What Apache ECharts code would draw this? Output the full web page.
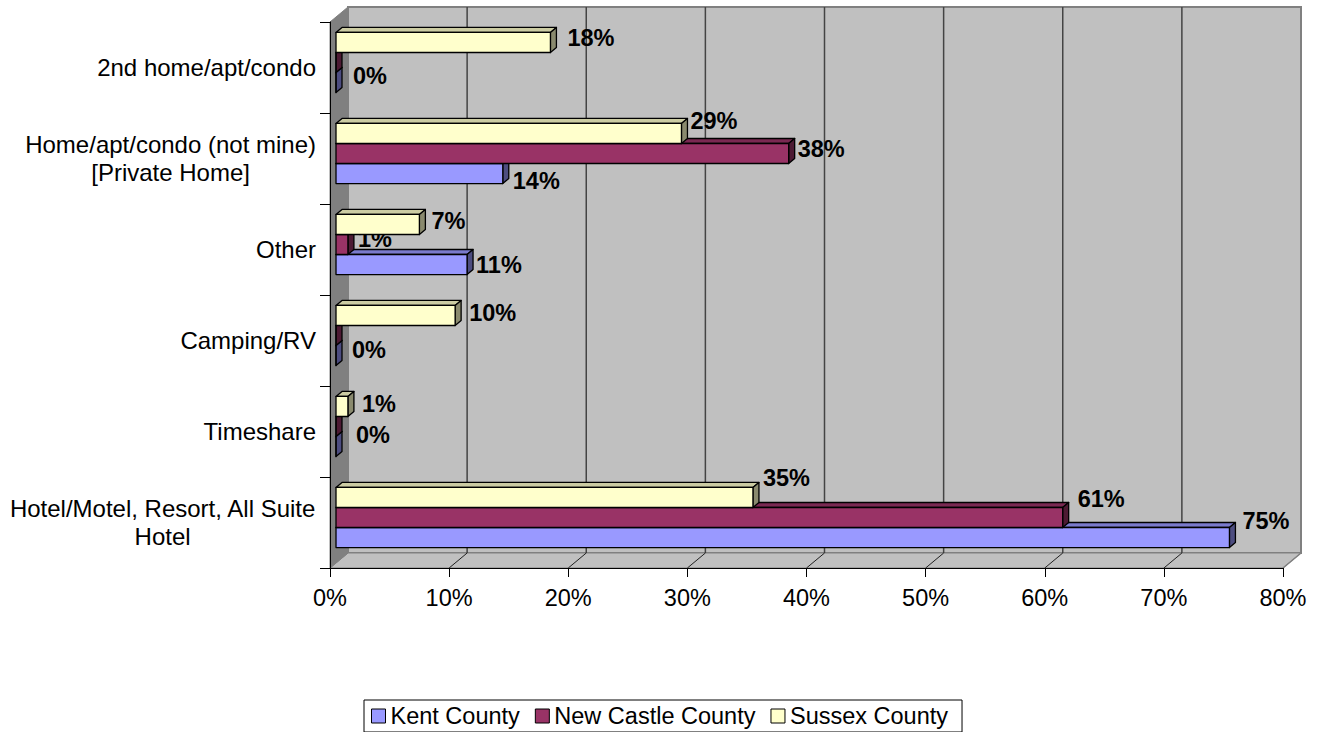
<!DOCTYPE html>
<html>
<head>
<meta charset="utf-8">
<title>Lodging type by county</title>
<script src="https://cdn.jsdelivr.net/npm/echarts@6/dist/echarts.min.js"></script>
<style>
  html, body { margin: 0; padding: 0; background: #ffffff; }
  #chart { width: 1319px; height: 732px; }
</style>
</head>
<body>
<div id="chart"></div>
<script>
// Categories listed bottom to top, as the value axis stacks them
const categories = [
  'Hotel/Motel, Resort, All Suite\nHotel',
  'Timeshare',
  'Camping/RV',
  'Other',
  'Home/apt/condo (not mine)\n[Private Home]',
  '2nd home/apt/condo'
];
const seriesNames = ['Kent County', 'New Castle County', 'Sussex County'];
// Share of visitors (%) per lodging type
const kentCounty      = [75, 0, 0, 11, 14, 0];
const newCastleCounty = [61, 0, 0, 1, 38, 0];
const sussexCounty    = [35, 1, 10, 7, 29, 18];

// Value axis range and step (%)
const axisMin = 0;
const axisMax = 80;
const axisStep = 10;

// ---- layout / style settings ----
const FONT = 'Arial, "Liberation Sans", Helvetica, sans-serif';
const WALL_DEPTH = [18, -15];   // projection of the box depth
const BAR_SHIFT = [6, -5];      // bars sit a little way into the box
const BAR_DEPTH = [6, -5];      // thickness of each bar
const BAR_RATIO = 0.22;         // bar height relative to category band

const palette = [
  { front: '#9999FF', top: '#7A7ACC', side: '#4D4D80' },
  { front: '#993366', top: '#7A2952', side: '#4D1A33' },
  { front: '#FFFFCC', top: '#CCCCA3', side: '#8A8A6E' }
];

// Per-label nudges [dx, dy] (null = label hidden because it coincides with its neighbour)
const labelNudge = [
  [[3, -16.5], [10, -11.5], [6, -5.5], [-1, 0.5], [0, 7], [7, -7]],
  [[5, -18.5], null, null, [0, -5.5], [-1, -4.5], null],
  [[0, -19], [4, -2], [4, -2.5], [2, -3], [-1, -12.5], [7, -4]]
];

function renderFrame(params, api) {
  const cs = params.coordSys;
  const X0 = cs.x, Y0 = cs.y, X1 = cs.x + cs.width, Y1 = cs.y + cs.height;
  const dx = WALL_DEPTH[0], dy = WALL_DEPTH[1];
  const children = [];
  // back wall
  children.push({
    type: 'rect',
    shape: { x: X0 + dx, y: Y0 + dy, width: X1 - X0, height: Y1 - Y0 },
    style: { fill: '#C0C0C0', stroke: '#808080', lineWidth: 2 }
  });
  // floor
  children.push({
    type: 'polygon',
    shape: { points: [[X0, Y1], [X1, Y1], [X1 + dx, Y1 + dy], [X0 + dx, Y1 + dy]] },
    style: { fill: '#C0C0C0', stroke: '#808080', lineWidth: 1 }
  });
  // left side wall
  children.push({
    type: 'polygon',
    shape: { points: [[X0, Y0], [X0 + dx, Y0 + dy], [X0 + dx, Y1 + dy], [X0, Y1]] },
    style: { fill: '#808080', stroke: '#808080', lineWidth: 1 }
  });
  // gridlines on the back wall and their traces across the floor
  for (let v = axisMin + axisStep; v < axisMax; v += axisStep) {
    const x = api.coord([v, 0])[0];
    children.push({
      type: 'line',
      shape: { x1: x + dx, y1: Y0 + dy, x2: x + dx, y2: Y1 + dy },
      style: { stroke: '#444444', lineWidth: 1.5 }
    });
    children.push({
      type: 'line',
      shape: { x1: x, y1: Y1, x2: x + dx, y2: Y1 + dy },
      style: { stroke: '#202020', lineWidth: 1 }
    });
  }
  children.push({
    type: 'line',
    shape: { x1: X1, y1: Y1, x2: X1 + dx, y2: Y1 + dy },
    style: { stroke: '#808080', lineWidth: 1.5 }
  });
  return { type: 'group', children: children };
}

function makeBarRenderer(si) {
  const col = palette[si];
  return function (params, api) {
    const v = api.value(0);
    const c = api.value(1);
    const base = api.coord([0, c]);
    const end = api.coord([v, c]);
    const band = api.size([0, 1])[1];
    const h = band * BAR_RATIO;
    const cy = base[1] + (1 - si) * h + BAR_SHIFT[1];
    const x0 = base[0] + BAR_SHIFT[0];
    const x1 = end[0] + BAR_SHIFT[0];
    const yT = cy - h / 2, yB = cy + h / 2;
    const dx = BAR_DEPTH[0], dy = BAR_DEPTH[1];
    const edge = { stroke: '#000', lineWidth: 1.3, lineJoin: 'round' };
    const children = [
      {
        type: 'polygon',
        shape: { points: [[x0, yT], [x1, yT], [x1 + dx, yT + dy], [x0 + dx, yT + dy]] },
        style: Object.assign({ fill: col.top }, edge)
      },
      {
        type: 'polygon',
        shape: { points: [[x1, yT], [x1 + dx, yT + dy], [x1 + dx, yB + dy], [x1, yB]] },
        style: Object.assign({ fill: col.side }, edge)
      },
      {
        type: 'rect',
        shape: { x: x0, y: yT, width: x1 - x0, height: h },
        style: Object.assign({ fill: col.front }, edge)
      }
    ];
    const nudge = labelNudge[si][params.dataIndex];
    if (nudge) {
      children.push({
        type: 'text',
        x: x1 + dx + 4 + nudge[0],
        y: cy + nudge[1],
        style: {
          text: v + '%',
          fill: '#000',
          font: 'bold 23.5px ' + FONT,
          textAlign: 'left',
          textVerticalAlign: 'middle'
        }
      });
    }
    return { type: 'group', children: children };
  };
}

const seriesValues = [kentCounty, newCastleCounty, sussexCounty];

const chart = echarts.init(document.getElementById('chart'), null, { renderer: 'svg' });

const barSeries = seriesValues.map(function (vals, si) {
  return {
    name: seriesNames[si],
    type: 'custom',
    coordinateSystem: 'cartesian2d',
    renderItem: makeBarRenderer(si),
    itemStyle: { color: palette[si].front, borderColor: '#000', borderWidth: 1 },
    encode: { x: 0, y: 1 },
    data: vals.map(function (v, i) { return [v, i]; }),
    z: 3 + si,
    silent: true,
    animation: false
  };
});

chart.setOption({
  animation: false,
  backgroundColor: '#ffffff',
  textStyle: { fontFamily: FONT },
  grid: { left: 330, right: 36, top: 22, bottom: 164, containLabel: false },
  xAxis: {
    type: 'value',
    min: axisMin,
    max: axisMax,
    interval: axisStep,
    z: 10,
    axisLine: { show: true, lineStyle: { color: '#000', width: 1 } },
    axisTick: { show: true, length: 9, lineStyle: { color: '#000', width: 1 } },
    splitLine: { show: false },
    axisLabel: {
      formatter: '{value}%',
      fontSize: 23.5,
      fontFamily: FONT,
      color: '#000',
      margin: 18
    }
  },
  yAxis: {
    type: 'category',
    data: categories,
    z: 10,
    axisLine: { show: true, lineStyle: { color: '#000', width: 1 } },
    axisTick: { show: true, length: 10, lineStyle: { color: '#000', width: 1 } },
    splitLine: { show: false },
    axisLabel: {
      margin: 14,
      align: 'right',
      formatter: function (val) {
        return val.split('\n').map(function (l) { return '{c|' + l + '}'; }).join('\n');
      },
      rich: {
        c: { align: 'center', fontSize: 24, lineHeight: 28, fontFamily: FONT, color: '#000' }
      }
    }
  },
  legend: {
    data: seriesNames,
    left: 364,
    top: 700,
    orient: 'horizontal',
    icon: 'rect',
    itemWidth: 14,
    itemHeight: 14,
    itemGap: 15,
    padding: [4, 14, 4, 7],
    borderColor: '#000',
    borderWidth: 1,
    itemStyle: { borderColor: '#000', borderWidth: 1 },
    textStyle: { fontSize: 23.5, fontFamily: FONT, color: '#000' },
    selectedMode: false
  },
  series: [
    {
      name: 'frame',
      type: 'custom',
      coordinateSystem: 'cartesian2d',
      renderItem: renderFrame,
      data: [[0, 0]],
      z: 1,
      silent: true,
      animation: false
    }
  ].concat(barSeries)
});
</script>
</body>
</html>
